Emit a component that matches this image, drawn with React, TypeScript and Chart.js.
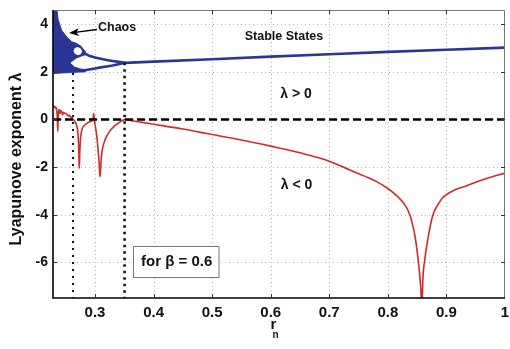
import React, { useEffect, useRef } from "react";
import { Chart, registerables } from "chart.js";

Chart.register(...registerables);

// ---------- axes ----------
const xMin = 0.2283;
const xMax = 1;
const yMin = -7.5;
const yMax = 4.6;
const xTicks = [0.3, 0.4, 0.5, 0.6, 0.7, 0.8, 0.9, 1];
const xTickLabels = ["0.3", "0.4", "0.5", "0.6", "0.7", "0.8", "0.9", "1"];
const yTicks = [-6, -4, -2, 0, 2, 4];
const yTickLabels = ["-6", "-4", "-2", "0", "2", "4"];

// ---------- Lyapunov exponent (red) ----------
const lyapR = [
  0.2283, 0.23, 0.2315, 0.233, 0.234, 0.2355, 0.2365, 0.2375, 0.239, 0.2405,
  0.2415, 0.243, 0.245, 0.246, 0.248, 0.2517, 0.254, 0.256, 0.2585, 0.2602,
  0.262, 0.264, 0.266, 0.268, 0.27, 0.2715, 0.2725, 0.2732, 0.274, 0.2755,
  0.2778, 0.2805, 0.2829, 0.2855, 0.2881, 0.291, 0.2932, 0.2955, 0.2968, 0.2975,
  0.2985, 0.3, 0.302, 0.3035, 0.305, 0.3065, 0.3078, 0.3087, 0.3097, 0.311,
  0.3135, 0.3165, 0.32, 0.325, 0.33, 0.335, 0.34, 0.345, 0.349, 0.3512,
  0.36, 0.38, 0.4, 0.42, 0.45, 0.48, 0.5, 0.55, 0.6, 0.65,
  0.7, 0.735, 0.76, 0.78, 0.8, 0.815, 0.83, 0.8375, 0.843, 0.847,
  0.8517, 0.855, 0.857, 0.8577, 0.8585, 0.8595, 0.863, 0.8688, 0.877, 0.885,
  0.894, 0.905, 0.917, 0.934, 0.95, 0.97, 1.0,
];
const lyapV = [
  0.58, 0.52, 0.55, 0.45, 0.5, 0.15, -0.5, 0.3, 0.42, 0.25,
  0.38, 0.33, 0.2, 0.3, 0.27, 0.22, 0.15, 0.18, 0.1, 0.1,
  0.02, -0.03, -0.1, -0.2, -0.4, -0.8, -1.5, -2.05, -1.4, -0.75,
  -0.42, -0.28, -0.22, -0.17, -0.13, -0.1, -0.08, -0.05, -0.03, 0.25,
  0.1, -0.2, -0.5, -0.8, -1.2, -1.65, -2.1, -2.4, -2.05, -1.55,
  -1.15, -0.9, -0.7, -0.5, -0.36, -0.24, -0.15, -0.07, -0.02, 0.0,
  -0.04, -0.12, -0.2, -0.28, -0.4, -0.54, -0.63, -0.86, -1.12, -1.4,
  -1.75, -2.12, -2.38, -2.6, -2.9, -3.2, -3.62, -4.0, -4.5, -5.0,
  -5.9, -6.7, -7.6, -8.6, -8.0, -6.9, -5.9, -4.95, -4.0, -3.6,
  -3.28, -3.08, -2.93, -2.79, -2.64, -2.47, -2.25,
];

// ---------- bifurcation diagram (blue) ----------
// chaotic band outline (closed shape)
const chaosR = [
  0.2283, 0.234, 0.237, 0.243, 0.252, 0.26, 0.268, 0.276, 0.283,
  0.283, 0.276, 0.268, 0.257, 0.265, 0.275, 0.283,
  0.283, 0.27, 0.26, 0.24, 0.2283,
];
const chaosV = [
  4.8, 4.8, 4.2, 3.75, 3.46, 3.27, 3.2, 3.08, 2.86,
  2.72, 2.66, 2.58, 2.38, 2.2, 2.12, 2.1,
  2.0, 1.99, 1.97, 1.95, 1.93,
];
// white window inside the chaotic band
const windowR = [0.2632, 0.2655, 0.2707, 0.2755, 0.2782, 0.2755, 0.2707, 0.2655, 0.2632];
const windowV = [2.88, 3.0, 3.05, 2.98, 2.86, 2.74, 2.7, 2.76, 2.88];
// period-2 branches
const upperR = [0.28, 0.29, 0.3, 0.31, 0.32, 0.33, 0.34, 0.351];
const upperV = [2.8, 2.68, 2.6, 2.55, 2.5, 2.46, 2.42, 2.38];
const lowerR = [0.28, 0.29, 0.3, 0.31, 0.32, 0.33, 0.34, 0.351];
const lowerV = [2.06, 2.1, 2.14, 2.19, 2.23, 2.27, 2.32, 2.38];
// stable fixed point
const stableR = [0.351, 0.4, 0.5, 0.6, 0.7, 0.8, 0.9, 1.0];
const stableV = [2.38, 2.43, 2.53, 2.64, 2.74, 2.84, 2.93, 3.02];

// ---------- reference lines ----------
const vLine1R = [0.2625, 0.2625];
const vLine1V = [1.95, -7.5];
const vLine2R = [0.3505, 0.3505];
const vLine2V = [2.38, -7.5];
const zeroR = [0.2283, 1.0];
const zeroV = [0, 0];

const zip = (xs: number[], ys: number[]) => xs.map((x, i) => ({ x, y: ys[i] }));

const FONT = "'Liberation Sans', Arial, Helvetica, sans-serif";
const BLUE = "#2b3595";
const RED = "#d42a2a";

const decor = {
  id: "decor",
  beforeDatasetsDraw(chart: any) {
    const { ctx, chartArea: a, scales } = chart;
    const xs = scales.x, ys = scales.y;
    ctx.save();
    ctx.strokeStyle = "#b5b5b5";
    ctx.lineWidth = 1;
    ctx.setLineDash([1, 3]);
    xTicks.forEach((t) => {
      if (t >= xMax) return;
      const px = Math.round(xs.getPixelForValue(t)) + 0.5;
      ctx.beginPath();
      ctx.moveTo(px, a.top);
      ctx.lineTo(px, a.bottom);
      ctx.stroke();
    });
    yTicks.forEach((t) => {
      const py = Math.round(ys.getPixelForValue(t)) + 0.5;
      ctx.beginPath();
      ctx.moveTo(a.left, py);
      ctx.lineTo(a.right, py);
      ctx.stroke();
    });
    ctx.restore();
  },
  afterDatasetsDraw(chart: any) {
    const { ctx, chartArea: a, scales } = chart;
    const xs = scales.x, ys = scales.y;
    ctx.save();
    // box
    ctx.setLineDash([]);
    ctx.strokeStyle = "#777";
    ctx.lineWidth = 1;
    ctx.beginPath();
    ctx.moveTo(a.left, a.top + 0.5);
    ctx.lineTo(a.right - 0.5, a.top + 0.5);
    ctx.lineTo(a.right - 0.5, a.bottom);
    ctx.stroke();
    ctx.strokeStyle = "#000";
    ctx.lineWidth = 1.6;
    ctx.beginPath();
    ctx.moveTo(a.left, a.top);
    ctx.lineTo(a.left, a.bottom);
    ctx.lineTo(a.right, a.bottom);
    ctx.stroke();
    // inward tick marks
    ctx.lineWidth = 1;
    ctx.strokeStyle = "#333";
    const tl = 4;
    xTicks.forEach((t) => {
      if (t >= xMax) return;
      const px = Math.round(xs.getPixelForValue(t)) + 0.5;
      ctx.beginPath();
      ctx.moveTo(px, a.bottom);
      ctx.lineTo(px, a.bottom - tl);
      ctx.moveTo(px, a.top);
      ctx.lineTo(px, a.top + tl);
      ctx.stroke();
    });
    yTicks.forEach((t) => {
      const py = Math.round(ys.getPixelForValue(t)) + 0.5;
      ctx.beginPath();
      ctx.moveTo(a.left, py);
      ctx.lineTo(a.left + tl, py);
      ctx.moveTo(a.right, py);
      ctx.lineTo(a.right - tl, py);
      ctx.stroke();
    });

    // arrow to the chaotic region
    ctx.strokeStyle = "#000";
    ctx.fillStyle = "#000";
    ctx.lineWidth = 1.3;
    ctx.beginPath();
    ctx.moveTo(97, 29.5);
    ctx.lineTo(75, 32.3);
    ctx.stroke();
    ctx.beginPath();
    ctx.moveTo(69, 33);
    ctx.lineTo(78.5, 28.3);
    ctx.lineTo(76.5, 32.4);
    ctx.lineTo(79.2, 36.0);
    ctx.closePath();
    ctx.fill();

    // texts
    ctx.fillStyle = "#111";
    ctx.textBaseline = "middle";
    ctx.textAlign = "left";
    ctx.font = `bold 12.5px ${FONT}`;
    ctx.fillText("Chaos", 98, 28);
    ctx.textAlign = "center";
    ctx.fillText("Stable States", 284, 37);
    ctx.font = `bold 14px ${FONT}`;
    ctx.fillText("λ > 0", 296, 94);
    ctx.fillText("λ < 0", 296.5, 185);

    // beta box
    ctx.fillStyle = "#fff";
    ctx.fillRect(133.5, 246.5, 85.5, 31);
    ctx.strokeStyle = "#777";
    ctx.lineWidth = 1;
    ctx.strokeRect(133.5, 246.5, 85.5, 31);
    ctx.fillStyle = "#111";
    ctx.font = `bold 15px ${FONT}`;
    ctx.textAlign = "left";
    ctx.fillText("for β = 0.6", 141, 262);

    // axis titles
    ctx.textAlign = "center";
    ctx.font = `bold 15px ${FONT}`;
    ctx.fillText("r", 273.5, 325);
    ctx.font = `bold 10px ${FONT}`;
    ctx.fillText("n", 275.5, 335);
    ctx.save();
    ctx.translate(17, 159);
    ctx.rotate(-Math.PI / 2);
    ctx.font = `bold 16px ${FONT}`;
    ctx.fillText("Lyapunove exponent λ", 0, 0);
    ctx.restore();
    ctx.restore();
  },
};

export default function App() {
  const ref = useRef<HTMLCanvasElement | null>(null);
  useEffect(() => {
    document.body.style.margin = "0";
    document.body.style.background = "#fff";
    const canvas = ref.current!;
    const chart = new Chart(canvas, {
      type: "scatter",
      data: {
        datasets: [
          {
            data: zip(zeroR, zeroV),
            showLine: true,
            borderColor: "#000",
            borderWidth: 2.6,
            borderDash: [8, 4],
            pointRadius: 0,
            order: 1,
          },
          {
            data: zip(windowR, windowV),
            showLine: true,
            borderWidth: 0,
            borderColor: "rgba(0,0,0,0)",
            backgroundColor: "#fff",
            fill: "shape",
            pointRadius: 0,
            order: 2,
          },
          {
            data: zip(lyapR, lyapV),
            showLine: true,
            borderColor: RED,
            borderWidth: 1.6,
            cubicInterpolationMode: "monotone",
            pointRadius: 0,
            order: 3,
          },
          {
            data: zip(vLine1R, vLine1V),
            showLine: true,
            borderColor: "#111",
            borderWidth: 2,
            borderDash: [2, 5],
            pointRadius: 0,
            order: 4,
          },
          {
            data: zip(vLine2R, vLine2V),
            showLine: true,
            borderColor: "#111",
            borderWidth: 2.6,
            borderDash: [2.5, 4],
            pointRadius: 0,
            order: 4,
          },
          {
            data: zip(upperR, upperV),
            showLine: true,
            borderColor: BLUE,
            borderWidth: 2.6,
            pointRadius: 0,
            order: 5,
          },
          {
            data: zip(lowerR, lowerV),
            showLine: true,
            borderColor: BLUE,
            borderWidth: 2.6,
            pointRadius: 0,
            order: 5,
          },
          {
            data: zip(stableR, stableV),
            showLine: true,
            borderColor: BLUE,
            borderWidth: 2.6,
            pointRadius: 0,
            order: 5,
          },
          {
            data: zip(chaosR, chaosV),
            showLine: true,
            borderColor: BLUE,
            borderWidth: 1,
            backgroundColor: BLUE,
            fill: "shape",
            pointRadius: 0,
            order: 6,
          },
        ],
      },
      options: {
        responsive: false,
        animation: false,
        devicePixelRatio: 1,
        layout: { padding: { top: 10, right: 5, left: 0, bottom: 0 } },
        plugins: {
          legend: { display: false },
          tooltip: { enabled: false },
        },
        scales: {
          x: {
            type: "linear",
            min: xMin,
            max: xMax,
            grid: { display: false, drawTicks: false },
            border: { display: false },
            afterBuildTicks: (s: any) => {
              s.ticks = xTicks.map((v) => ({ value: v }));
            },
            afterFit: (s: any) => {
              s.height = 51;
              s.paddingLeft = 0;
              s.paddingRight = 0;
            },
            ticks: {
              padding: 6,
              maxRotation: 0,
              autoSkip: false,
              color: "#111",
              font: { family: FONT, weight: "bold", size: 15 },
              callback: (_v: any, i: number) => xTickLabels[i],
            },
          },
          y: {
            type: "linear",
            min: yMin,
            max: yMax,
            grid: { display: false, drawTicks: false },
            border: { display: false },
            afterBuildTicks: (s: any) => {
              s.ticks = yTicks.map((v) => ({ value: v }));
            },
            afterFit: (s: any) => {
              s.width = 53;
              s.paddingTop = 0;
              s.paddingBottom = 0;
            },
            ticks: {
              padding: 5,
              autoSkip: false,
              color: "#111",
              font: { family: FONT, weight: "bold", size: 14 },
              callback: (_v: any, i: number) => yTickLabels[i],
            },
          },
        },
      },
      plugins: [decor],
    } as any);
    return () => chart.destroy();
  }, []);
  return (
    <div style={{ width: 510, height: 349, background: "#fff" }}>
      <canvas ref={ref} width={510} height={349} style={{ display: "block" }} />
    </div>
  );
}
